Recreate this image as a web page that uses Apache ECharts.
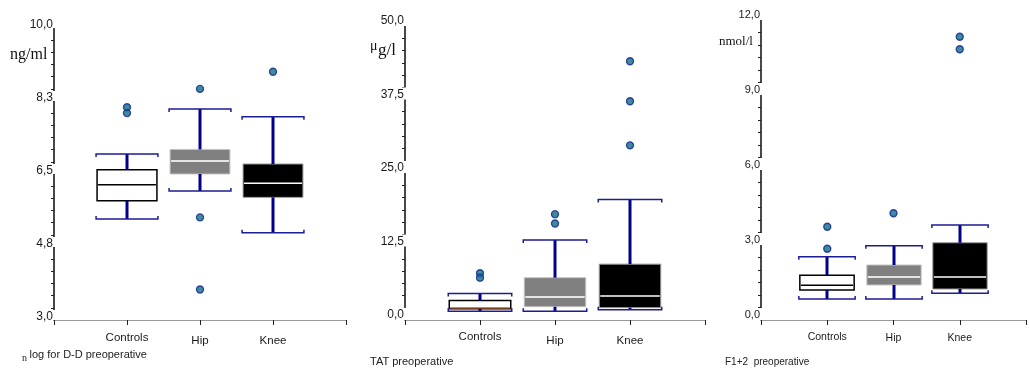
<!DOCTYPE html>
<html><head><meta charset="utf-8">
<script src="https://cdn.jsdelivr.net/npm/echarts@6/dist/echarts.min.js"></script>
<style>html,body{margin:0;padding:0;background:#fff}#c{width:1029px;height:368px}</style>
</head><body><div id="c"></div>
<script>
// ---------- data ----------
const categories = ['Controls', 'Hip', 'Knee'];
// each box: [min whisker, q1, median, q3, max whisker]
const ddBoxes  = [[5.42, 5.86, 6.24, 6.60, 6.98], [6.09, 6.50, 6.81, 7.09, 8.06], [5.09, 5.94, 6.28, 6.74, 7.87]];
const ddOutliers = [['Controls', 8.10], ['Controls', 7.96], ['Hip', 8.54], ['Hip', 5.46], ['Hip', 3.73], ['Knee', 8.95]];
const ddTicks = [3.0, 4.75, 6.5, 8.25, 10.0];

const tatBoxes = [[1.5, 1.9, 2.1, 3.3, 4.5], [1.5, 2.26, 3.9, 7.2, 13.6], [1.75, 2.1, 4.1, 9.5, 20.5]];
const tatOutliers = [['Controls', 7.95], ['Controls', 7.2], ['Hip', 18.0], ['Hip', 16.4], ['Knee', 44.0], ['Knee', 37.2], ['Knee', 29.7]];
const tatTicks = [0, 12.5, 25, 37.5, 50];

const f12Boxes = [[0.84, 1.2, 1.39, 1.79, 2.53], [0.84, 1.4, 1.72, 2.2, 2.97], [1.07, 1.24, 1.72, 3.09, 3.8]];
const f12Outliers = [['Controls', 3.73], ['Controls', 2.85], ['Hip', 4.27], ['Knee', 11.33], ['Knee', 10.83]];
const f12Ticks = [0, 3, 6, 9, 12];

// ---------- styles ----------
const SANS = '"Liberation Sans", Arial, sans-serif';
const SERIF = '"Liberation Serif", "Times New Roman", serif';
const ctrlStyle = {fill: '#ffffff', stroke: '#000000', lw: 1.5, median: '#000000', mlw: 1.5};
const hipStyle  = {fill: '#808080', stroke: '#c4c4c4', lw: 1, median: '#e4e4e4', mlw: 2};
const kneeStyle = {fill: '#000000', stroke: '#9a9a9a', lw: 1, median: '#ffffff', mlw: 1.5};
const panelStyles = [
  [ctrlStyle, hipStyle, kneeStyle],
  [Object.assign({}, ctrlStyle, {median: '#f07d2a'}), hipStyle, kneeStyle],
  [ctrlStyle, hipStyle, kneeStyle]
];
const dotStyle = {color: '#0d6f85', borderColor: '#12238f', borderWidth: 1.4};

function makeRender(styles) {
  return function (params, api) {
    const x = api.value(0);
    const lo = api.coord([x, api.value(1)]);
    const q1 = api.coord([x, api.value(2)]);
    const md = api.coord([x, api.value(3)]);
    const q3 = api.coord([x, api.value(4)]);
    const hi = api.coord([x, api.value(5)]);
    const bw = api.size([1, 0])[0] * 0.82;
    const cx = Math.round(lo[0]);
    const s = styles[params.dataIndex];
    const left = cx - bw / 2, right = cx + bw / 2;
    const whisk = {stroke: '#00008b', lineWidth: 3};
    const cap = {stroke: '#1c1c96', lineWidth: 1.5, fill: null};
    return {
      type: 'group',
      children: [
        {type: 'rect', shape: {x: left, y: q3[1], width: bw, height: q1[1] - q3[1]},
         style: {fill: s.fill, stroke: s.stroke, lineWidth: s.lw}},
        {type: 'line', shape: {x1: left + 1, y1: md[1], x2: right - 1, y2: md[1]},
         style: {stroke: s.median, lineWidth: s.mlw}},
        {type: 'line', shape: {x1: cx, y1: hi[1], x2: cx, y2: q3[1]}, style: whisk},
        {type: 'line', shape: {x1: cx, y1: q1[1], x2: cx, y2: lo[1]}, style: whisk},
        {type: 'polyline', shape: {points: [[left - 1, hi[1] + 3], [left - 1, hi[1]], [right + 1, hi[1]], [right + 1, hi[1] + 3]]}, style: cap},
        {type: 'polyline', shape: {points: [[left - 1, lo[1] - 3], [left - 1, lo[1]], [right + 1, lo[1]], [right + 1, lo[1] - 3]]}, style: cap}
      ]
    };
  };
}

function xAx(i, fs, margin, shift) {
  return {
    type: 'category', gridIndex: i, data: [''].concat(categories, ['']), boundaryGap: false, z: 5,
    axisLine: {lineStyle: {color: '#9a9a9a', width: 1}},
    axisTick: {show: true, interval: 0, length: 5, lineStyle: {color: '#222', width: 1}},
    axisLabel: {
      interval: 0, margin: margin, color: '#1a1a1a', fontFamily: SANS, fontSize: fs,
      formatter: function (v) { return v === 'Controls' || v === '' ? v : '{d|' + v + '}'; },
      rich: {d: {padding: [shift, 0, 0, 0], fontFamily: SANS, fontSize: fs, color: '#1a1a1a'}}
    },
    splitLine: {show: false}
  };
}

function yAx(i, ticks, fs, lh, pt) {
  return {
    type: 'value', gridIndex: i, min: ticks[0], max: ticks[ticks.length - 1], interval: ticks[1] - ticks[0],
    axisLine: {show: true, lineStyle: {color: '#1a1a1a', width: 1.6}},
    axisTick: {show: false},
    minorTick: {show: true, splitNumber: 6, length: 3, lineStyle: {color: '#222', width: 1}},
    splitLine: {show: false}, minorSplitLine: {show: false},
    axisLabel: {
      showMinLabel: true, showMaxLabel: true, margin: -2, color: '#1a1a1a', fontFamily: SANS, fontSize: fs,
      formatter: function (v) { return v.toFixed(1).replace('.', ','); },
      verticalAlign: 'bottom', lineHeight: lh, padding: [pt, 3, 0, 0], backgroundColor: '#fff'
    }
  };
}

function boxData(boxes) { return boxes.map(function (b, k) { return [k + 1].concat(b); }); }

const chart = echarts.init(document.getElementById('c'), null, {renderer: 'canvas'});
const option = {
  animation: false,
  backgroundColor: '#fff',
  grid: [
    {left: 54, top: 28, width: 292, bottom: 48},
    {left: 405, top: 26, width: 300, bottom: 48},
    {left: 761, top: 20, width: 276, bottom: 48}
  ],
  xAxis: [xAx(0, 11.5, 12, 3), xAx(1, 11.5, 11, 4), xAx(2, 10.5, 12, 1)],
  yAxis: [yAx(0, ddTicks, 12, 6, 4), yAx(1, tatTicks, 12, 10, 2), yAx(2, f12Ticks, 11, 10, 2)],
  series: [
    {type: 'custom', xAxisIndex: 0, yAxisIndex: 0, renderItem: makeRender(panelStyles[0]), data: boxData(ddBoxes), encode: {x: 0, y: [1, 2, 3, 4, 5]}},
    {type: 'custom', xAxisIndex: 1, yAxisIndex: 1, renderItem: makeRender(panelStyles[1]), data: boxData(tatBoxes), encode: {x: 0, y: [1, 2, 3, 4, 5]}},
    {type: 'custom', xAxisIndex: 2, yAxisIndex: 2, renderItem: makeRender(panelStyles[2]), data: boxData(f12Boxes), encode: {x: 0, y: [1, 2, 3, 4, 5]}},
    {type: 'scatter', xAxisIndex: 0, yAxisIndex: 0, data: ddOutliers, symbolSize: 7, itemStyle: dotStyle},
    {type: 'scatter', xAxisIndex: 1, yAxisIndex: 1, data: tatOutliers, symbolSize: 7, itemStyle: dotStyle},
    {type: 'scatter', xAxisIndex: 2, yAxisIndex: 2, data: f12Outliers, symbolSize: 7, itemStyle: dotStyle}
  ],
  graphic: [
    {type: 'text', x: 10, y: 54.5, style: {text: 'ng/ml', font: '16px ' + SERIF, fill: '#111', verticalAlign: 'middle'}},
    {type: 'text', x: 370, y: 46, style: {text: 'μ', font: '14px ' + SERIF, fill: '#111', verticalAlign: 'middle'}},
    {type: 'text', x: 378, y: 51, style: {text: 'g/l', font: '17px ' + SERIF, fill: '#111', verticalAlign: 'middle'}},
    {type: 'text', x: 719, y: 41.5, style: {text: 'nmol/l', font: '13px ' + SERIF, fill: '#111', verticalAlign: 'middle'}},
    {type: 'text', x: 22, y: 358.5, style: {text: 'n', font: '10px ' + SERIF, fill: '#222', verticalAlign: 'middle'}},
    {type: 'text', x: 29.5, y: 354.5, style: {text: 'log for D-D preoperative', font: '11px ' + SANS, fill: '#222', verticalAlign: 'middle'}},
    {type: 'text', x: 370, y: 361.5, style: {text: 'TAT preoperative', font: '11px ' + SANS, fill: '#222', verticalAlign: 'middle'}},
    {type: 'text', x: 725, y: 362.5, style: {text: 'F1+2  preoperative', font: '10px ' + SANS, fill: '#222', verticalAlign: 'middle'}}
  ]
};
chart.setOption(option);
</script>
</body></html>
